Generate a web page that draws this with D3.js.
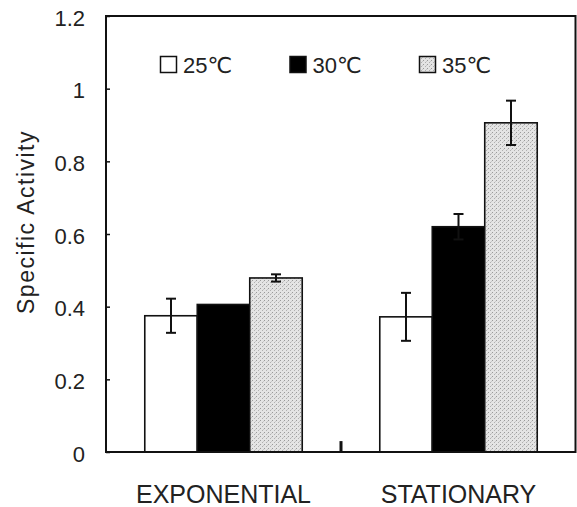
<!DOCTYPE html>
<html>
<head>
<meta charset="utf-8">
<script src="https://cdn.jsdelivr.net/npm/d3@7"></script>
<style>
  body { margin: 0; background: #fff; }
  svg { display: block; font-family: "Liberation Sans", Arial, "DejaVu Sans", sans-serif; }
</style>
</head>
<body>
<svg id="chart" width="577" height="507"></svg>
<script>
// chart data
const groups = ["EXPONENTIAL", "STATIONARY"];
const series = ["25℃", "30℃", "35℃"];
const means = [
    [0.375, 0.406, 0.479],
    [0.372, 0.620, 0.906]
];
const errors = [
    [0.047, 0.0, 0.010],
    [0.066, 0.035, 0.061]
];
const yTicks = [0, 0.2, 0.4, 0.6, 0.8, 1, 1.2];
const gapMarkValue = 0.03;   // small dark mark between the two groups

const svg = d3.select("#chart");
const margin = { top: 16, right: 1, bottom: 55, left: 106 };
const W = 577, H = 507;

// stipple pattern for the 35 degree bars
const defs = svg.append("defs");
const pat = defs.append("pattern")
    .attr("id", "stipple")
    .attr("patternUnits", "userSpaceOnUse")
    .attr("width", 4).attr("height", 4);
pat.append("rect").attr("width", 4).attr("height", 4).attr("fill", "#e4e4e4");
pat.append("rect").attr("x", 0).attr("y", 0).attr("width", 1).attr("height", 1).attr("fill", "#9a9a9a");
pat.append("rect").attr("x", 2).attr("y", 2).attr("width", 1).attr("height", 1).attr("fill", "#b0b0b0");
pat.append("rect").attr("x", 3).attr("y", 1).attr("width", 1).attr("height", 1).attr("fill", "#c8c8c8");

const fills = { "25℃": "#fff", "30℃": "#000", "35℃": "url(#stipple)" };

const x0 = d3.scaleBand()
    .domain(groups)
    .range([margin.left, W - margin.right])
    .paddingInner(0.33)
    .paddingOuter(0.165);

const x1 = d3.scaleBand()
    .domain(series)
    .range([0, x0.bandwidth()])
    .padding(0);

const y = d3.scaleLinear()
    .domain([0, 1.2])
    .range([H - margin.bottom, margin.top]);

// bars
const rows = [];
groups.forEach((g, gi) => {
    series.forEach((s, si) => {
        rows.push({ group: g, series: s, value: means[gi][si], err: errors[gi][si] });
    });
});

const bars = svg.append("g");
bars.selectAll("rect")
    .data(rows)
    .enter().append("rect")
    .attr("x", d => x0(d.group) + x1(d.series))
    .attr("y", d => y(d.value))
    .attr("width", x1.bandwidth())
    .attr("height", d => y(0) - y(d.value))
    .attr("fill", d => fills[d.series])
    .attr("stroke", "#111")
    .attr("stroke-width", 1.6);

// error bars
const eb = svg.append("g")
    .attr("stroke", "#111")
    .attr("stroke-width", 2);
rows.filter(d => d.err > 0).forEach(d => {
    const cx = x0(d.group) + x1(d.series) + x1.bandwidth() / 2;
    const capW = 5;
    eb.append("line")
        .attr("x1", cx).attr("x2", cx)
        .attr("y1", y(d.value + d.err)).attr("y2", y(d.value - d.err));
    eb.append("line")
        .attr("x1", cx - capW).attr("x2", cx + capW)
        .attr("y1", y(d.value + d.err)).attr("y2", y(d.value + d.err));
    eb.append("line")
        .attr("x1", cx - capW).attr("x2", cx + capW)
        .attr("y1", y(d.value - d.err)).attr("y2", y(d.value - d.err));
});

// small mark between the groups
const midX = (x0(groups[0]) + x0.bandwidth() + x0(groups[1])) / 2;
svg.append("rect")
    .attr("x", midX - 1.5)
    .attr("y", y(gapMarkValue))
    .attr("width", 3)
    .attr("height", y(0) - y(gapMarkValue))
    .attr("fill", "#111");

// frame
svg.append("rect")
    .attr("x", margin.left)
    .attr("y", margin.top)
    .attr("width", W - margin.right - margin.left - 0.5)
    .attr("height", y(0) - margin.top)
    .attr("fill", "none")
    .attr("stroke", "#111")
    .attr("stroke-width", 2);

// y axis
const yAxis = svg.append("g")
    .attr("transform", `translate(${margin.left},0)`)
    .call(d3.axisLeft(y)
        .tickValues(yTicks)
        .tickSizeInner(-4)
        .tickSizeOuter(0)
        .tickPadding(21)
        .tickFormat(d => d3.format("")(+d.toFixed(1))));
yAxis.select(".domain").remove();
yAxis.selectAll("line").attr("stroke", "#111").attr("stroke-width", 1.5);
yAxis.selectAll("text")
    .attr("fill", "#222")
    .style("font-size", "22px")
    .attr("dy", "0.42em");

// x labels
svg.append("g")
    .selectAll("text")
    .data(groups)
    .enter().append("text")
    .attr("x", d => x0(d) + x0.bandwidth() / 2)
    .attr("y", 503)
    .attr("text-anchor", "middle")
    .attr("fill", "#222")
    .style("font-size", "25px")
    .text(d => d);

// y title
svg.append("text")
    .attr("transform", "translate(34,222) rotate(-90)")
    .attr("text-anchor", "middle")
    .attr("fill", "#222")
    .style("font-size", "23px")
    .style("letter-spacing", "1.5px")
    .text("Specific Activity");

// legend
const legendX = d3.scalePoint()
    .domain(series)
    .range([160, 419]);
const legend = svg.append("g");
const item = legend.selectAll("g")
    .data(series)
    .enter().append("g")
    .attr("transform", d => `translate(${legendX(d)},56)`);
item.append("rect")
    .attr("x", 0.5).attr("y", 0.5)
    .attr("width", 16).attr("height", 16)
    .attr("fill", d => fills[d])
    .attr("stroke", "#111")
    .attr("stroke-width", 1.5);
item.append("text")
    .attr("x", 23)
    .attr("y", 17)
    .attr("fill", "#222")
    .style("font-size", "22px")
    .text(d => d);
</script>
</body>
</html>
